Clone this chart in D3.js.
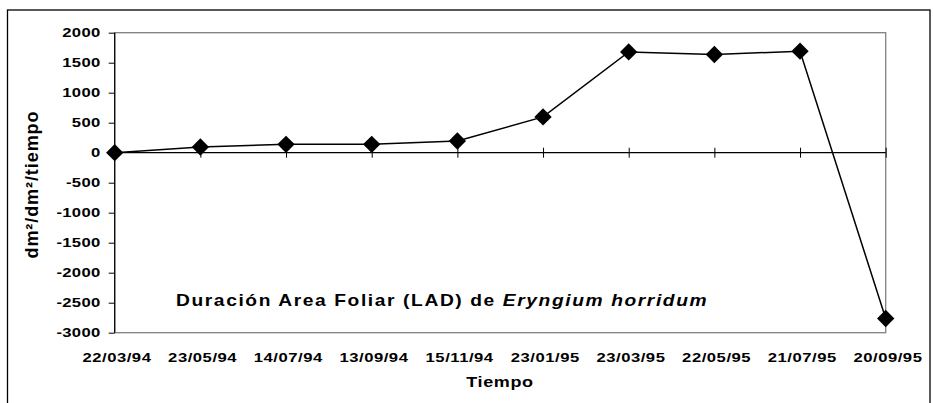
<!DOCTYPE html>
<html>
<head>
<meta charset="utf-8">
<script src="https://d3js.org/d3.v7.min.js"></script>
<style>
  html, body { margin: 0; padding: 0; background: #fff; }
  svg { display: block; }
  text { font-family: "Liberation Sans", Arial, sans-serif; font-weight: bold; fill: #000; }
</style>
</head>
<body>
<svg id="chart" width="933" height="403"></svg>
<script>
// ---- data ----
const categories = ["22/03/94","23/05/94","14/07/94","13/09/94","15/11/94","23/01/95","23/03/95","22/05/95","21/07/95","20/09/95"];
const lad = [0, 95, 140, 140, 195, 597, 1680, 1637, 1692, -2763];
const yTicks = [2000, 1500, 1000, 500, 0, -500, -1000, -1500, -2000, -2500, -3000];
const titleMain = "Duración Area Foliar (LAD) de ";
const titleSpecies = "Eryngium horridum";
const xTitle = "Tiempo";
const yTitle = "dm²/dm²/tiempo";

// ---- layout ----
const plot = { left: 114.7, right: 885.7, top: 32.7, bottom: 332.7 };
const svg = d3.select("#chart");

const x = d3.scalePoint().domain(categories).range([plot.left, plot.right]);
const y = d3.scaleLinear().domain([-3000, 2000]).range([plot.bottom, plot.top]);

// letter-spacing fit helper: returns letter spacing so text spans `target` px at horizontal scale s
function spacingFor(node, target, s) {
  node.setAttribute("letter-spacing", 0);
  const w = node.getComputedTextLength();
  const n = node.textContent.length;
  return (target / s - w) / Math.max(1, n - 1);
}

// outer chart border
svg.append("rect").attr("x", 7.5).attr("y", 10).attr("width", 922.5).attr("height", 410)
  .attr("fill", "none").attr("stroke", "#000").attr("stroke-width", 1.3);

// plot area border (gray)
svg.append("rect").attr("x", plot.left).attr("y", plot.top)
  .attr("width", plot.right - plot.left).attr("height", plot.bottom - plot.top)
  .attr("fill", "none").attr("stroke", "#808080").attr("stroke-width", 1.3);

// y axis
const yAxis = d3.axisLeft(y).tickValues(yTicks).tickSize(6).tickFormat("");
const gy = svg.append("g").attr("transform", `translate(${plot.left},0)`).call(yAxis);
gy.select(".domain").attr("stroke", "#000").attr("stroke-width", 1.2).attr("d", `M0,${plot.top}V${plot.bottom}`);
gy.selectAll(".tick line").attr("stroke", "#000").attr("stroke-width", 1);

// y tick labels
const ySx = 1.28;
const yLab = svg.append("g").selectAll("text").data(yTicks).join("text")
  .attr("font-size", 13).attr("x", 0).text(d => d);
const yLs = spacingFor(yLab.filter(d => d === 2000).node(), 38, ySx);
yLab.attr("letter-spacing", yLs).each(function(d) {
  const w = this.getComputedTextLength() - yLs; // drop trailing spacing
  d3.select(this).attr("transform", `translate(${100.3 - w * ySx},${y(d) + 3.8}) scale(${ySx},1)`);
});

// x axis at zero, crossing ticks
const xAxis = d3.axisBottom(x).tickSize(5).tickFormat("");
const gx = svg.append("g").attr("transform", `translate(0,${y(0)})`).call(xAxis);
gx.select(".domain").attr("stroke", "#000").attr("stroke-width", 1.2).attr("d", `M${plot.left},0H${plot.right}`);
gx.selectAll(".tick line").attr("stroke", "#000").attr("stroke-width", 1).attr("y1", -5).attr("y2", 5);

// x tick labels
const xSx = 1.28;
const xLab = svg.append("g").selectAll("text").data(categories).join("text")
  .attr("font-size", 13).attr("x", 0).text(d => d);
const xLs = spacingFor(xLab.node(), 68.5, xSx);
xLab.attr("letter-spacing", xLs).each(function(d) {
  const w = this.getComputedTextLength() - xLs;
  d3.select(this).attr("transform", `translate(${x(d) + 2 - w * xSx / 2},362.3) scale(${xSx},1)`);
});

// line
const line = d3.line().x((d, i) => x(categories[i])).y(d => y(d));
svg.append("path").datum(lad).attr("d", line)
  .attr("fill", "none").attr("stroke", "#000").attr("stroke-width", 1.5);

// diamond markers
const sym = d3.symbol(d3.symbolSquare, 150);
svg.append("g").selectAll("path").data(lad).join("path")
  .attr("d", sym)
  .attr("transform", (d, i) => `translate(${x(categories[i])},${y(d)}) rotate(45)`)
  .attr("fill", "#000");

// x axis title
const tSx = 1.2;
const xt = svg.append("text").attr("font-size", 15).attr("x", 0).text(xTitle);
const xtLs = spacingFor(xt.node(), 67, tSx);
xt.attr("letter-spacing", xtLs)
  .attr("transform", `translate(${499.7 - 67 / 2},386.7) scale(${tSx},1)`);

// y axis title (rotated)
const yt = svg.append("text").attr("font-size", 18).attr("x", 0).text(yTitle);
const ytLs = spacingFor(yt.node(), 147, 1);
yt.attr("letter-spacing", ytLs)
  .attr("transform", `translate(38,${185 + 147 / 2}) rotate(-90)`);

// chart title inside the plot
const t = svg.append("text").attr("font-size", 16).attr("x", 0);
t.append("tspan").text(titleMain);
t.append("tspan").attr("font-style", "italic").text(titleSpecies);
const tLs = spacingFor(t.node(), 531, tSx);
t.attr("letter-spacing", tLs).attr("transform", `translate(176,306) scale(${tSx},1)`);
</script>
</body>
</html>
